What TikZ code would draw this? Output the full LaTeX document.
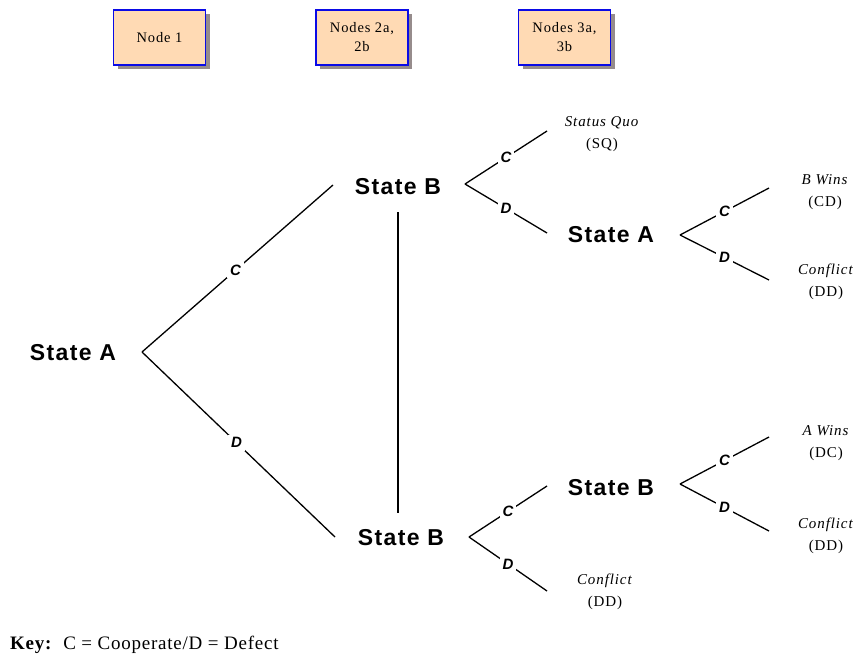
\documentclass[tikz,border=0pt]{standalone}
\usepackage{fontspec}
\setmainfont{Liberation Serif}
\newfontfamily\statefont[LetterSpace=6]{Liberation Sans}
\newfontfamily\lblfont{Liberation Sans}
\newfontfamily\outfont[LetterSpace=6]{Liberation Serif}
\newfontfamily\keyfont[LetterSpace=4]{Liberation Serif}
\usetikzlibrary{shadows,calc}
\definecolor{peach}{RGB}{255,218,180}
\definecolor{boxblue}{RGB}{10,10,230}
\definecolor{shadowgray}{RGB}{150,140,140}
\begin{document}
\begin{tikzpicture}[x=1pt,y=-1pt,
  hdr/.style={draw=boxblue, line width=1.2pt, fill=peach, minimum width=92pt, minimum height=55pt,
    align=center, font=\outfont\fontsize{14.5}{19}\selectfont, inner sep=0pt,
    drop shadow={shadow xshift=4pt, shadow yshift=-4pt, fill=shadowgray, opacity=1}},
  statenode/.style={font=\statefont\bfseries\fontsize{23}{26}\selectfont, inner sep=0pt},
  lbl/.style={font=\lblfont\bfseries\itshape\fontsize{15}{16}\selectfont, fill=white, inner sep=3pt},
  outcome/.style={align=center, font=\outfont\fontsize{15}{22}\selectfont, inner sep=0pt},
  branch/.style={line width=1.3pt},
]
\useasboundingbox (0,0) rectangle (858,656);

% header boxes
\node[hdr] (h1) at (159.5,37.5) {Node 1};
\node[hdr] (h2) at (362,37.5) {Nodes 2a,\\2b};
\node[hdr] (h3) at (564.5,37.5) {Nodes 3a,\\3b};

% states
\node[statenode] (sA)  at (73,353) {State A};
\node[statenode] (sB1) at (398,187) {State B};
\node[statenode] (sB2) at (401,538) {State B};
\node[statenode] (sA2) at (611,235) {State A};
\node[statenode] (sB3) at (611,488) {State B};

% outcomes
\node[outcome] (oSQ)  at (602,134) {\textit{Status Quo}\\(SQ)};
\node[outcome] (oCD)  at (825,192) {\textit{B Wins}\\(CD)};
\node[outcome] (oDD1) at (826,282) {\textit{Conflict}\\(DD)};
\node[outcome] (oDC)  at (826,443) {\textit{A Wins}\\(DC)};
\node[outcome] (oDD2) at (826,536) {\textit{Conflict}\\(DD)};
\node[outcome] (oDD3) at (605,592) {\textit{Conflict}\\(DD)};

% branch coordinates
\coordinate (fA)  at (142,352);
\coordinate (eB1) at (333,185);
\coordinate (eB2) at (335,537);

\coordinate (fB1) at (465,184);
\coordinate (fB1c) at (547,131);
\coordinate (fB1d) at (547,233);

\coordinate (fA2) at (680,235);
\coordinate (fA2c) at (769,188);
\coordinate (fA2d) at (769,280);

\coordinate (fB2) at (469,537);
\coordinate (fB2c) at (547,486);
\coordinate (fB2d) at (547,591);

\coordinate (fB3) at (680,484);
\coordinate (fB3c) at (769,437);
\coordinate (fB3d) at (769,531);

% main branches
\draw[branch] (fA) -- node[lbl, pos=0.49] {C} (eB1);
\draw[branch] (fA) -- node[lbl, pos=0.49] {D} (eB2);

% information set line
\draw[branch] ($(sB1.center)+(0,25)$) -- ($(sB1.center |- sB2.center)+(0,-25)$);

% forks
\draw[branch] (fB1) -- node[lbl, pos=0.5] {C} (fB1c);
\draw[branch] (fB1) -- node[lbl, pos=0.5] {D} (fB1d);
\draw[branch] (fA2) -- node[lbl, pos=0.5] {C} (fA2c);
\draw[branch] (fA2) -- node[lbl, pos=0.5] {D} (fA2d);
\draw[branch] (fB2) -- node[lbl, pos=0.5] {C} (fB2c);
\draw[branch] (fB2) -- node[lbl, pos=0.5] {D} (fB2d);
\draw[branch] (fB3) -- node[lbl, pos=0.5] {C} (fB3c);
\draw[branch] (fB3) -- node[lbl, pos=0.5] {D} (fB3d);

% key
\node[anchor=west, font=\keyfont\fontsize{19}{20}\selectfont, inner sep=0pt] (key) at (10,645) {\textbf{Key:}\ \ C = Cooperate/D = Defect};
\end{tikzpicture}
\end{document}
